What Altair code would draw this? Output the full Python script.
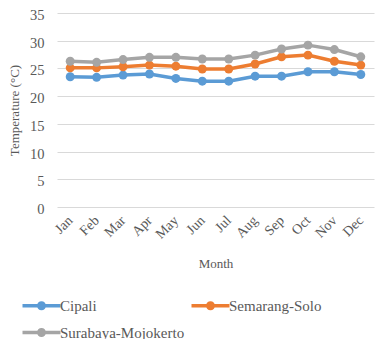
import altair as alt
import pandas as pd

months = ["Jan", "Feb", "Mar", "Apr", "May", "Jun", "Jul", "Aug", "Sep", "Oct", "Nov", "Dec"]
cipali = [23.5, 23.4, 23.8, 24.0, 23.2, 22.7, 22.7, 23.6, 23.6, 24.4, 24.4, 23.9]
semarang = [25.1, 25.1, 25.3, 25.6, 25.4, 24.9, 24.9, 25.8, 27.1, 27.4, 26.3, 25.6]
surabaya = [26.3, 26.1, 26.6, 27.0, 27.0, 26.7, 26.7, 27.4, 28.5, 29.2, 28.4, 27.1]
series = ["Cipali", "Semarang-Solo", "Surabaya-Mojokerto"]
colors = ["#5B9BD5", "#ED7D31", "#A5A5A5"]

rows = []
for name, vals in zip(series, [cipali, semarang, surabaya]):
    for m, v in zip(months, vals):
        rows.append({"Month": m, "Temp": v, "Series": name})
df = pd.DataFrame(rows)

FONT = "Liberation Serif"
TXT = "#595959"

# legend symbol: line (38px) with a dot, drawn in units of 5px (symbolSize=100)
sym = ("M-1,-0.35 L2.0,-0.35 L2.0,0.35 L-1,0.35 Z "
       "M3.6,-0.35 L6.6,-0.35 L6.6,0.35 L3.6,0.35 Z "
       "M3.7,0 A0.9,0.9 0 1,1 1.9,0 A0.9,0.9 0 1,1 3.7,0 Z")

x = alt.X("Month:N", sort=months, title="Month",
          scale=alt.Scale(paddingInner=0, paddingOuter=0),
          axis=alt.Axis(labelAngle=-45, labelAlign="right", labelBaseline="middle",
                        ticks=False, domain=False, labelPadding=11, titlePadding=16,
                        labelFont=FONT, titleFont=FONT, labelFontSize=14, titleFontSize=13,
                        labelColor=TXT, titleColor=TXT, titleFontWeight="normal"))
y = alt.Y("Temp:Q", title="Temperature (°C)",
          scale=alt.Scale(domain=[0, 35], nice=False),
          axis=alt.Axis(values=[0, 5, 10, 15, 20, 25, 30, 35], ticks=False, domain=False,
                        gridColor="#D9D9D9", gridWidth=1, labelPadding=13, titlePadding=8,
                        labelOffset=2.5,
                        labelFont=FONT, titleFont=FONT, labelFontSize=14.5, titleFontSize=13,
                        labelColor=TXT, titleColor=TXT, titleFontWeight="normal"))
color = alt.Color("Series:N", sort=series,
                  scale=alt.Scale(domain=series, range=colors),
                  legend=alt.Legend(title=None, orient="none", legendX=-37, legendY=285,
                                    direction="horizontal", columns=2, symbolType=sym,
                                    symbolSize=100, symbolStrokeWidth=0, labelOffset=25,
                                    columnPadding=4, rowPadding=11, padding=0,
                                    labelFont=FONT, labelFontSize=15, labelColor=TXT))

base = alt.Chart(df).encode(x=x, y=y, color=color)
chart = base.mark_line(strokeWidth=3.5, point=alt.OverlayMarkDef(filled=True, size=80, opacity=1)).properties(
    width=317, height=194,
    autosize=alt.AutoSizeParams(type="none"),
    padding={"left": 49, "top": 5, "right": 10, "bottom": 132},
).configure_view(stroke=None).configure_legend(labelFont=FONT, labelFontSize=15)

chart.save("out.html", embed_options={"renderer": "svg", "actions": False})
